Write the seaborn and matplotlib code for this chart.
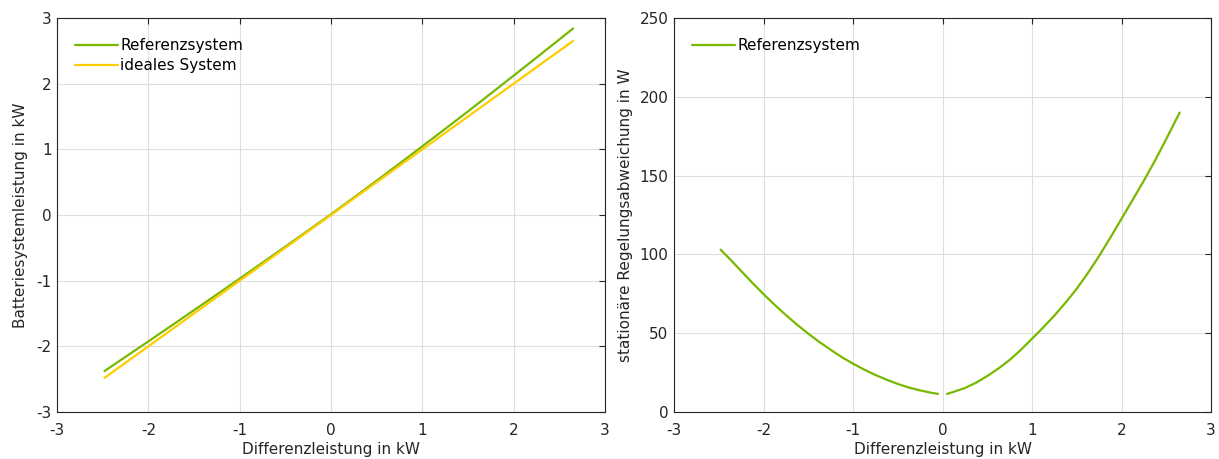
import numpy as np
import pandas as pd
import matplotlib
matplotlib.use("Agg")
import matplotlib.pyplot as plt
import seaborn as sns

# ---- data ----
x_left = [-2.48, -2.25, -2.0, -1.75, -1.5, -1.25, -1.0, -0.75, -0.5, -0.25, 0.0,
          0.25, 0.5, 0.75, 1.0, 1.25, 1.5, 1.75, 2.0, 2.25, 2.5, 2.65]
y_ref = [-2.377, -2.160, -1.925, -1.688, -1.450, -1.2105, -0.9693, -0.7265, -0.4822, -0.2363, 0.011,
         0.2652, 0.523, 0.783, 1.0465, 1.3112, 1.5782, 1.8495, 2.123, 2.3968, 2.6735, 2.84]
y_ideal = [-2.48, -2.25, -2.0, -1.75, -1.5, -1.25, -1.0, -0.75, -0.5, -0.25, 0.0,
           0.25, 0.5, 0.75, 1.0, 1.25, 1.5, 1.75, 2.0, 2.25, 2.5, 2.65]

x_dev_neg = [-2.48, -2.375, -2.25, -2.125, -2.0, -1.875, -1.75, -1.625, -1.5, -1.375,
             -1.25, -1.125, -1.0, -0.875, -0.75, -0.625, -0.5, -0.375, -0.25, -0.125, -0.05]
dev_neg = [103, 97.0, 89.5, 82.0, 74.8, 68.0, 61.5, 55.4, 49.7, 44.4, 39.5, 34.8, 30.7,
           26.9, 23.5, 20.5, 17.8, 15.5, 13.7, 12.2, 11.5]
x_dev_pos = [0.05, 0.125, 0.25, 0.375, 0.5, 0.625, 0.75, 0.875, 1.0, 1.125, 1.25, 1.375,
             1.5, 1.625, 1.75, 1.875, 2.0, 2.125, 2.25, 2.375, 2.5, 2.65]
dev_pos = [11.5, 12.8, 15.2, 18.6, 22.8, 27.6, 33, 39.4, 46.5, 53.6, 61.2, 69.4,
           78.2, 88.2, 99.0, 110.6, 122.6, 134.6, 146.8, 159.6, 173.2, 190]

xticks = [-3, -2, -1, 0, 1, 2, 3]
yticks_left = [-3, -2, -1, 0, 1, 2, 3]
yticks_right = [0, 50, 100, 150, 200, 250]

GREEN = "#77B900"
YELLOW = "#FFCC00"
TEXT = "#262626"
FS = 11

sns.set_theme(style="whitegrid")
plt.rcParams['font.family'] = ['DejaVu Sans']
plt.rcParams.update({
    'font.size': FS,
    'axes.edgecolor': '#262626',
    'axes.linewidth': 0.8,
    'grid.color': '#dedede',
    'grid.linewidth': 0.8,
    'xtick.color': TEXT,
    'ytick.color': TEXT,
    'text.color': TEXT,
    'axes.labelcolor': TEXT,
})

fig = plt.figure(figsize=(12.19, 4.59), dpi=100)
ax1 = fig.add_axes([57/1219, 1-412/459, (605-57)/1219, (412-18)/459])
ax2 = fig.add_axes([674/1219, 1-412/459, (1211-674)/1219, (412-18)/459])

df_left = pd.DataFrame({'x': x_left, 'ref': y_ref, 'ideal': y_ideal})
sns.lineplot(data=df_left, x='x', y='ref', ax=ax1, color=GREEN, lw=1.6, label='Referenzsystem')
sns.lineplot(data=df_left, x='x', y='ideal', ax=ax1, color=YELLOW, lw=1.6, label='ideales System')

sns.lineplot(x=x_dev_neg, y=dev_neg, ax=ax2, color=GREEN, lw=1.6, label='Referenzsystem')
sns.lineplot(x=x_dev_pos, y=dev_pos, ax=ax2, color=GREEN, lw=1.6, legend=False)

for ax, yt in ((ax1, yticks_left), (ax2, yticks_right)):
    ax.set_xlim(-3, 3)
    ax.set_ylim(yt[0], yt[-1])
    ax.set_xticks(xticks)
    ax.set_yticks(yt)
    ax.set_xticklabels([str(t) for t in xticks])
    ax.set_yticklabels([str(t) for t in yt])
    ax.tick_params(direction='in', length=4, width=0.8, top=True, right=True,
                   labelsize=FS, colors=TEXT, pad=4)
    ax.tick_params(axis='x', pad=8)
    for s in ax.spines.values():
        s.set_visible(True)
        s.set_color('#262626')
        s.set_linewidth(0.8)
    ax.grid(True, color='#dedede', linewidth=0.8)
    ax.set_xlabel('Differenzleistung in kW', fontsize=FS, labelpad=3)
    leg = ax.legend(loc='upper left', frameon=False, fontsize=FS, handlelength=2.8,
                    handletextpad=0.15, labelspacing=0.3, borderaxespad=0.8,
                    bbox_to_anchor=(0.0, 0.995))
    for t in leg.get_texts():
        t.set_color('black')

ax1.set_ylabel('Batteriesystemleistung in kW', fontsize=FS, labelpad=6)
ax2.set_ylabel('stationäre Regelungsabweichung in W', fontsize=FS, labelpad=5)

fig.savefig('out.png', dpi=100)
